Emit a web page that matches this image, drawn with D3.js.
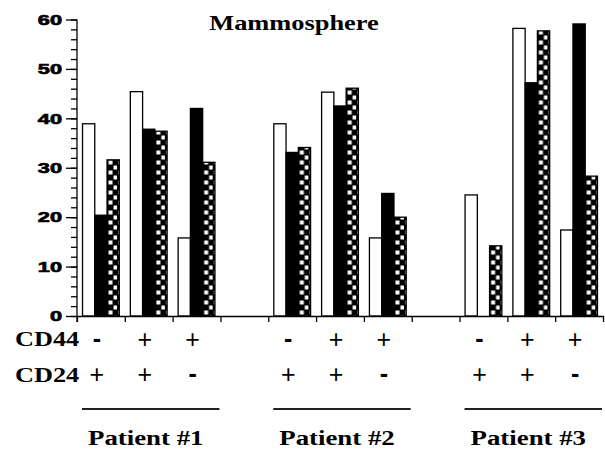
<!DOCTYPE html>
<html>
<head>
<meta charset="utf-8">
<script src="https://cdn.jsdelivr.net/npm/d3@7"></script>
<style>
  body { margin: 0; background: #fff; }
  svg { display: block; }
  .serif { font-family: "Liberation Serif", "Times New Roman", serif; font-weight: bold; }
  .sign { font-family: "Liberation Sans", Arial, sans-serif; }
</style>
</head>
<body>
<svg id="chart"></svg>
<script>
// Chart data
const patients = ["Patient #1", "Patient #2", "Patient #3"];
const cd44 = ["-", "+", "+"];
const cd24 = ["+", "+", "-"];
const seriesNames = ["open", "solid", "checker"];
const openVals = [38.9, 45.4, 15.8, 38.9, 45.3, 15.8, 24.5, 58.2, 17.4];
const solidVals = [20.4, 37.8, 42.0, 33.1, 42.5, 24.8, 0, 47.2, 59.1];
const checkerVals = [31.6, 37.4, 31.1, 34.1, 46.1, 20.0, 14.2, 57.7, 28.3];
const yTicks = [0, 10, 20, 30, 40, 50, 60];

const width = 605, height = 451;
const plot = { left: 77, right: 603, top: 19.5, bottom: 316 };

const svg = d3.select("#chart")
    .attr("width", width)
    .attr("height", height);

// Slots: three per patient, with an empty slot between patients
const slots = [];
patients.forEach((p, pi) => {
    if (pi > 0) slots.push("gap" + pi);
    cd44.forEach((c, ci) => slots.push(p + "|" + ci));
});

const x = d3.scaleBand().domain(slots).range([plot.left, plot.right]);
const xInner = d3.scaleBand().domain(seriesNames).range([0, x.bandwidth()]).paddingOuter(0.45);
const y = d3.scaleLinear().domain([0, 60]).range([plot.bottom, plot.top]);

// Bar rows
const rows = [];
patients.forEach((p, pi) => {
    cd44.forEach((c, ci) => {
        const i = pi * 3 + ci;
        rows.push({ slot: p + "|" + ci, series: "open", value: openVals[i] });
        rows.push({ slot: p + "|" + ci, series: "solid", value: solidVals[i] });
        rows.push({ slot: p + "|" + ci, series: "checker", value: checkerVals[i] });
    });
});

// Checker pattern
const defs = svg.append("defs");
const pat = defs.append("pattern")
    .attr("id", "checker")
    .attr("patternUnits", "userSpaceOnUse")
    .attr("width", 10).attr("height", 10);
pat.append("rect").attr("width", 10).attr("height", 10).attr("fill", "#000");
pat.append("rect").attr("x", 1.5).attr("y", 0.5).attr("width", 4).attr("height", 4).attr("fill", "#fff");
pat.append("rect").attr("x", 6.5).attr("y", 5.5).attr("width", 4).attr("height", 4).attr("fill", "#fff");

const fills = { open: "#fff", solid: "#000", checker: "url(#checker)" };

svg.append("g")
    .selectAll("g")
    .data(rows.filter(d => d.value > 0))
    .join("g")
    .attr("transform", d => `translate(${x(d.slot) + xInner(d.series)},0)`)
    .append("rect")
    .attr("x", 0)
    .attr("y", d => y(d.value))
    .attr("width", xInner.bandwidth())
    .attr("height", d => y(0) - y(d.value))
    .attr("fill", d => fills[d.series])
    .attr("stroke", "#000")
    .attr("stroke-width", 1.3);

// Y axis: major and minor ticks
const yMinor = svg.append("g")
    .attr("transform", `translate(${plot.left},0)`)
    .call(d3.axisLeft(y).tickValues(d3.range(0, 61, 2)).tickSize(6).tickFormat(""));
yMinor.select(".domain").remove();

const yAxis = svg.append("g")
    .attr("transform", `translate(${plot.left},0)`)
    .call(d3.axisLeft(y).tickValues(yTicks).tickSize(11).tickPadding(15));
yAxis.select(".domain").remove();
yAxis.selectAll("text")
    .attr("x", -15 / 1.45)
    .attr("transform", "scale(1.45,1)")
    .style("font-family", "'Liberation Sans', Arial, sans-serif")
    .style("font-size", "15px")
    .style("font-weight", "bold")
    .attr("stroke", "#000")
    .attr("stroke-width", 0.7);

svg.selectAll(".tick line").attr("stroke-width", 1.3);

svg.append("line")
    .attr("x1", plot.left).attr("x2", plot.left)
    .attr("y1", plot.top).attr("y2", plot.bottom + 6)
    .attr("stroke", "#000").attr("stroke-width", 1.3);

// X axis with ticks at slot boundaries
const xEdge = d3.scaleLinear().domain([0, slots.length]).range([plot.left, plot.right]);
const xAxis = svg.append("g")
    .attr("transform", `translate(0,${plot.bottom})`)
    .call(d3.axisBottom(xEdge).tickValues(d3.range(0, slots.length + 1)).tickSize(6).tickSizeOuter(0).tickFormat(""));
xAxis.selectAll("line, path").attr("stroke-width", 1.3);

// Title
svg.append("text")
    .attr("class", "serif")
    .attr("transform", "translate(294,30) scale(1.2,1)")
    .attr("text-anchor", "middle")
    .style("font-size", "22px")
    .text("Mammosphere");

// Marker rows
const markerRows = [{ name: "CD44", signs: cd44, y: 346 }, { name: "CD24", signs: cd24, y: 381.5 }];
markerRows.forEach(r => {
    svg.append("text")
        .attr("class", "serif")
        .attr("transform", `translate(15,${r.y}) scale(1.25,1)`)
        .style("font-size", "21px")
        .text(r.name);
    patients.forEach(p => {
        r.signs.forEach((s, ci) => {
            svg.append("text")
                .attr("class", "sign")
                .attr("x", x(p + "|" + ci) + x.bandwidth() / 2 - 4)
                .attr("y", s === "+" ? r.y + 1.5 : r.y + 0.5)
                .attr("text-anchor", "middle")
                .style("font-size", "25px")
                .style("font-weight", s === "-" ? "bold" : "normal")
                .text(s);
        });
    });
});

// Patient brackets and labels
patients.forEach(p => {
    const x0 = x(p + "|0"), x1 = x(p + "|2") + x.bandwidth();
    svg.append("line")
        .attr("x1", x0 + 5).attr("x2", x1 - 1)
        .attr("y1", 409).attr("y2", 409)
        .attr("stroke", "#222").attr("stroke-width", 2);
    svg.append("text")
        .attr("class", "serif")
        .attr("transform", `translate(${(x0 + x1) / 2 - 3},445) scale(1.22,1)`)
        .attr("text-anchor", "middle")
        .style("font-size", "22px")
        .text(p);
});
</script>
</body>
</html>
